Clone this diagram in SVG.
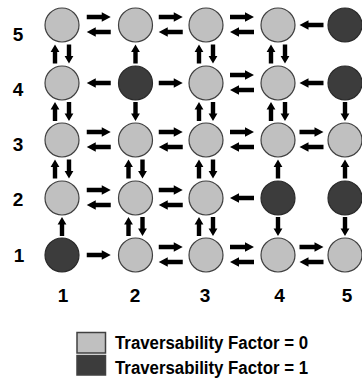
<svg xmlns="http://www.w3.org/2000/svg" width="362" height="379" viewBox="0 0 362 379">
<style>
.free{fill:#c0c0c0;stroke:#404040;stroke-width:1.2}
.blk{fill:#3c3c3c;stroke:#2a2a2a;stroke-width:1.2}
.lbl{font-family:"Liberation Sans",Arial,sans-serif;font-weight:bold;font-size:19px;fill:#000;text-anchor:middle}
.leg{font-family:"Liberation Sans",Arial,sans-serif;font-weight:bold;font-size:18px;fill:#000}
#connectors use{fill:#000}
</style>
<defs>
<path id="ah" d="M-12,-2.3 H3 V-4.8 L12,0 L3,4.8 V2.3 H-12 Z"/>
<path id="av" d="M-2.2,9.5 V-2 H-4.4 L0,-9.5 L4.4,-2 H2.2 V9.5 Z"/>
</defs>
<rect width="362" height="379" fill="#fff"/>
<g id="connectors">
<use href="#ah" transform="translate(98.75,17)"/><use href="#ah" transform="translate(98.75,32) rotate(180)"/>
<use href="#ah" transform="translate(170.75,17)"/><use href="#ah" transform="translate(170.75,32) rotate(180)"/>
<use href="#ah" transform="translate(242,17)"/><use href="#ah" transform="translate(242,32) rotate(180)"/>
<use href="#ah" transform="translate(311.5,25) rotate(180)"/>
<use href="#ah" transform="translate(98.75,83) rotate(180)"/>
<use href="#ah" transform="translate(170.75,83)"/>
<use href="#ah" transform="translate(242,75)"/><use href="#ah" transform="translate(242,90) rotate(180)"/>
<use href="#ah" transform="translate(311.5,83) rotate(180)"/>
<use href="#ah" transform="translate(98.75,132)"/><use href="#ah" transform="translate(98.75,147) rotate(180)"/>
<use href="#ah" transform="translate(170.75,132)"/><use href="#ah" transform="translate(170.75,147) rotate(180)"/>
<use href="#ah" transform="translate(242,132)"/><use href="#ah" transform="translate(242,147) rotate(180)"/>
<use href="#ah" transform="translate(311.5,132)"/><use href="#ah" transform="translate(311.5,147) rotate(180)"/>
<use href="#ah" transform="translate(98.75,190)"/><use href="#ah" transform="translate(98.75,205) rotate(180)"/>
<use href="#ah" transform="translate(170.75,190)"/><use href="#ah" transform="translate(170.75,205) rotate(180)"/>
<use href="#ah" transform="translate(242,198) rotate(180)"/>
<use href="#ah" transform="translate(98.75,255)"/>
<use href="#ah" transform="translate(170.75,247)"/><use href="#ah" transform="translate(170.75,262) rotate(180)"/>
<use href="#ah" transform="translate(242,247)"/><use href="#ah" transform="translate(242,262) rotate(180)"/>
<use href="#ah" transform="translate(311.5,247)"/><use href="#ah" transform="translate(311.5,262) rotate(180)"/>
<use href="#av" transform="translate(55,54)"/><use href="#av" transform="translate(69,54) rotate(180)"/>
<use href="#av" transform="translate(135.5,54)"/>
<use href="#av" transform="translate(199,54)"/><use href="#av" transform="translate(213,54) rotate(180)"/>
<use href="#av" transform="translate(271,54)"/><use href="#av" transform="translate(285,54) rotate(180)"/>
<use href="#av" transform="translate(55,111.5)"/><use href="#av" transform="translate(69,111.5) rotate(180)"/>
<use href="#av" transform="translate(135.5,111.5) rotate(180)"/>
<use href="#av" transform="translate(199,111.5)"/><use href="#av" transform="translate(213,111.5) rotate(180)"/>
<use href="#av" transform="translate(271,111.5)"/><use href="#av" transform="translate(285,111.5) rotate(180)"/>
<use href="#av" transform="translate(345,111.5) rotate(180)"/>
<use href="#av" transform="translate(55,169)"/><use href="#av" transform="translate(69,169) rotate(180)"/>
<use href="#av" transform="translate(128.5,169)"/><use href="#av" transform="translate(142.5,169) rotate(180)"/>
<use href="#av" transform="translate(199,169)"/><use href="#av" transform="translate(213,169) rotate(180)"/>
<use href="#av" transform="translate(278,169)"/>
<use href="#av" transform="translate(345,169)"/>
<use href="#av" transform="translate(62,226.5)"/>
<use href="#av" transform="translate(128.5,226.5)"/><use href="#av" transform="translate(142.5,226.5) rotate(180)"/>
<use href="#av" transform="translate(199,226.5)"/><use href="#av" transform="translate(213,226.5) rotate(180)"/>
<use href="#av" transform="translate(278,226.5) rotate(180)"/>
<use href="#av" transform="translate(345,226.5) rotate(180)"/>
</g>
<g id="n-c1-r5"><circle class="free" cx="62" cy="25" r="17"/></g>
<g id="n-c2-r5"><circle class="free" cx="135.5" cy="25" r="17"/></g>
<g id="n-c3-r5"><circle class="free" cx="206" cy="25" r="17"/></g>
<g id="n-c4-r5"><circle class="free" cx="278" cy="25" r="17"/></g>
<g id="n-c5-r5"><circle class="blk" cx="345" cy="25" r="17"/></g>
<g id="n-c1-r4"><circle class="free" cx="62" cy="83" r="17"/></g>
<g id="n-c2-r4"><circle class="blk" cx="135.5" cy="83" r="17"/></g>
<g id="n-c3-r4"><circle class="free" cx="206" cy="83" r="17"/></g>
<g id="n-c4-r4"><circle class="free" cx="278" cy="83" r="17"/></g>
<g id="n-c5-r4"><circle class="blk" cx="345" cy="83" r="17"/></g>
<g id="n-c1-r3"><circle class="free" cx="62" cy="140" r="17"/></g>
<g id="n-c2-r3"><circle class="free" cx="135.5" cy="140" r="17"/></g>
<g id="n-c3-r3"><circle class="free" cx="206" cy="140" r="17"/></g>
<g id="n-c4-r3"><circle class="free" cx="278" cy="140" r="17"/></g>
<g id="n-c5-r3"><circle class="free" cx="345" cy="140" r="17"/></g>
<g id="n-c1-r2"><circle class="free" cx="62" cy="198" r="17"/></g>
<g id="n-c2-r2"><circle class="free" cx="135.5" cy="198" r="17"/></g>
<g id="n-c3-r2"><circle class="free" cx="206" cy="198" r="17"/></g>
<g id="n-c4-r2"><circle class="blk" cx="278" cy="198" r="17"/></g>
<g id="n-c5-r2"><circle class="blk" cx="345" cy="198" r="17"/></g>
<g id="n-c1-r1"><circle class="blk" cx="62" cy="255" r="17"/></g>
<g id="n-c2-r1"><circle class="free" cx="135.5" cy="255" r="17"/></g>
<g id="n-c3-r1"><circle class="free" cx="206" cy="255" r="17"/></g>
<g id="n-c4-r1"><circle class="free" cx="278" cy="255" r="17"/></g>
<g id="n-c5-r1"><circle class="free" cx="345" cy="255" r="17"/></g>
<g id="row-labels">
<text class="lbl" x="18" y="40.5">5</text>
<text class="lbl" x="18" y="96">4</text>
<text class="lbl" x="18" y="151">3</text>
<text class="lbl" x="18" y="206">2</text>
<text class="lbl" x="19" y="262">1</text>
</g>
<g id="col-labels">
<text class="lbl" x="63" y="301.5">1</text>
<text class="lbl" x="135" y="301.5">2</text>
<text class="lbl" x="205" y="301.5">3</text>
<text class="lbl" x="279.5" y="301.5">4</text>
<text class="lbl" x="347" y="301.5">5</text>
</g>
<g id="legend">
<rect class="free" x="77" y="332.5" width="28.5" height="20.5" style="stroke-width:1.5"/>
<rect class="blk" x="77" y="355.5" width="28.5" height="19.5" style="stroke:#404040;stroke-width:1.5"/>
<text class="leg" x="115" y="348.5" textLength="193" lengthAdjust="spacingAndGlyphs">Traversability Factor = 0</text>
<text class="leg" x="115" y="373.5" textLength="193" lengthAdjust="spacingAndGlyphs">Traversability Factor = 1</text>
</g>
</svg>
